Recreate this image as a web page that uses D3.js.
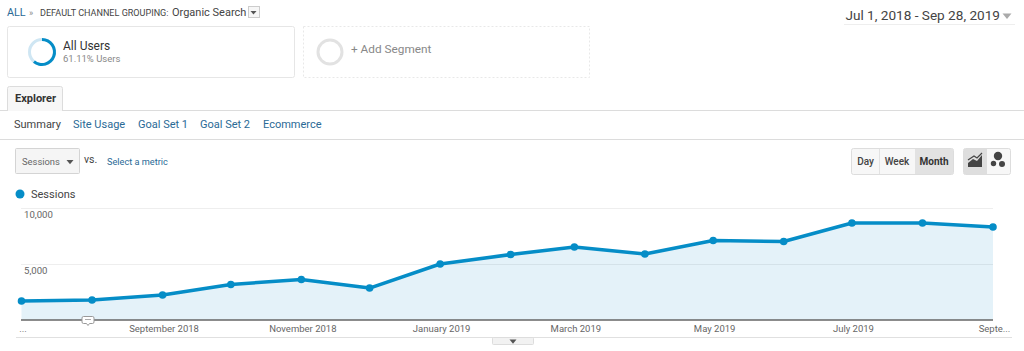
<!DOCTYPE html>
<html>
  <head>
    <meta charset="utf-8" />
    <script src="https://cdn.jsdelivr.net/npm/d3@7"></script>
    <style>
      html, body { margin: 0; padding: 0; background: #fff; overflow: hidden; }
      svg { display: block; font-family: Roboto, Arial, sans-serif; }
    </style>
  </head>
  <body>
    <div id="chart"></div>
    <script>
      // values
      const months = [
        "2018-07", "2018-08", "2018-09", "2018-10", "2018-11",
        "2018-12", "2019-01", "2019-02", "2019-03", "2019-04",
        "2019-05", "2019-06", "2019-07", "2019-08", "2019-09",
      ];
      const sessions = [
        1690, 1780, 2220, 3155, 3600, 2840, 4980, 5820, 6490, 5870, 7070,
        6980, 8620, 8620, 8270,
      ];
      const yTicks = [5000, 10000];
      const xTickMonths = ["2018-07", "2018-09", "2018-11", "2019-01", "2019-03", "2019-05", "2019-07", "2019-09"];
      const xTickText = ["...", "September 2018", "November 2018", "January 2019", "March 2019", "May 2019", "July 2019", "Septe..."];
      const tabs = ["Summary", "Site Usage", "Goal Set 1", "Goal Set 2", "Ecommerce"];
      const tabX = [14, 73, 138, 200, 263];

      const blue = "#058dc7";
      const width = 1024, height = 351;

      const svg = d3.select("#chart").append("svg")
        .attr("width", width).attr("height", height);

      function label(x, y, str, size, color, anchor, weight) {
        return svg.append("text")
          .attr("x", x).attr("y", y)
          .attr("font-size", size)
          .attr("fill", color)
          .attr("text-anchor", anchor || "start")
          .attr("font-weight", weight || 400)
          .text(str);
      }
      function box(x, y, w, h, fill, stroke, r) {
        return svg.append("rect")
          .attr("x", x + 0.5).attr("y", y + 0.5)
          .attr("width", w).attr("height", h)
          .attr("rx", r || 0)
          .attr("fill", fill).attr("stroke", stroke);
      }
      function hline(x1, x2, y, color) {
        svg.append("line")
          .attr("x1", x1).attr("x2", x2)
          .attr("y1", y + 0.5).attr("y2", y + 0.5)
          .attr("stroke", color);
      }
      function caret(cx, cy, w, color) {
        svg.append("path")
          .attr("d", `M${cx - w / 2},${cy}h${w}l${-w / 2},${w * 0.6}z`)
          .attr("fill", color);
      }

      // breadcrumb
      label(7, 16, "ALL", 10.8, "#2a6a96");
      label(29, 15.5, "»", 9, "#888");
      label(40, 15.5, "DEFAULT CHANNEL GROUPING:", 9.05, "#444");
      label(172, 16, "Organic Search", 11, "#444");
      box(248, 6, 11, 11, "#f6f6f6", "#ccc");
      caret(253.5, 11, 6, "#555");

      // date range
      label(1000, 20, "Jul 1, 2018 - Sep 28, 2019", 13.6, "#444", "end");
      caret(1007, 13.5, 9, "#aaa");
      hline(844, 1015, 24, "#eeeeee");

      // segments
      box(7, 26, 287, 51, "#fff", "#e6e6e6", 2);
      const donut = d3.arc().innerRadius(11).outerRadius(14);
      const donutG = svg.append("g").attr("transform", "translate(42,52)");
      donutG.append("path")
        .attr("d", donut({ startAngle: 0, endAngle: 2 * Math.PI }))
        .attr("fill", "#cfe6f3");
      donutG.append("path")
        .attr("d", donut({ startAngle: 0, endAngle: 2 * Math.PI * 0.6111 }))
        .attr("fill", blue);
      label(63, 50, "All Users", 12, "#333");
      label(63, 61.5, "61.11% Users", 9.5, "#888");

      svg.append("rect")
        .attr("x", 303.5).attr("y", 26.5).attr("width", 286).attr("height", 51)
        .attr("fill", "#fff").attr("stroke", "#e8e8e8").attr("stroke-dasharray", "2,2");
      svg.append("circle")
        .attr("cx", 330).attr("cy", 52).attr("r", 12)
        .attr("fill", "none").attr("stroke", "#e2e2e2").attr("stroke-width", 3);
      label(351, 53, "+ Add Segment", 11.8, "#888");

      // Explorer tab
      hline(0, 1024, 110, "#dcdcdc");
      svg.append("path")
        .attr("d", "M7.5,111V88.5a2,2 0 0 1 2,-2H60.5a2,2 0 0 1 2,2V111")
        .attr("fill", "#f7f7f7").attr("stroke", "#dcdcdc");
      label(15, 102, "Explorer", 11, "#333", "start", 700);

      // sub tabs
      svg.selectAll(".subtab")
        .data(tabs)
        .enter()
        .append("text")
        .attr("class", "subtab")
        .attr("x", (d, i) => tabX[i])
        .attr("y", 128)
        .attr("font-size", 11)
        .attr("fill", (d, i) => (i === 0 ? "#444" : "#2a6a96"))
        .text((d) => d);
      hline(0, 1024, 139, "#dcdcdc");

      // metric picker
      box(15, 148, 64, 25, "#f5f5f5", "#d4d4d4", 1);
      label(22, 165, "Sessions", 9.4, "#666");
      caret(70, 160, 7, "#555");
      label(84, 163, "vs.", 10.5, "#444");
      label(107, 164.5, "Select a metric", 9.2, "#2a6a96");

      // day / week / month
      box(851, 148, 102, 26, "#f7f7f7", "#dddddd", 2);
      svg.append("rect").attr("x", 915).attr("y", 149).attr("width", 38).attr("height", 25)
        .attr("fill", "#e2e2e2");
      svg.append("line").attr("x1", 879.5).attr("x2", 879.5).attr("y1", 149).attr("y2", 174).attr("stroke", "#e2e2e2");
      label(865.5, 165, "Day", 10, "#444", "middle", 500);
      label(897, 165, "Week", 10, "#444", "middle", 500);
      label(934, 165, "Month", 10, "#333", "middle", 700);

      // chart type toggle
      box(963, 148, 47, 26, "#f7f7f7", "#dddddd", 2);
      svg.append("rect").attr("x", 964).attr("y", 149).attr("width", 23).attr("height", 25)
        .attr("fill", "#dedede");
      svg.append("path")
        .attr("d", "M968,167V163L973,159L977,161L982,155V167Z")
        .attr("fill", "#444");
      svg.append("path")
        .attr("d", "M968,160L974,156L977,158L982,153")
        .attr("fill", "none").attr("stroke", "#444").attr("stroke-width", 1.2);
      [[998, 156, 4.2], [993.5, 163.5, 2.7], [1002, 164, 3]].forEach((c) => {
        svg.append("circle").attr("cx", c[0]).attr("cy", c[1]).attr("r", c[2]).attr("fill", "#444");
      });

      // legend
      svg.append("circle").attr("cx", 20).attr("cy", 194).attr("r", 4.5).attr("fill", blue);
      label(31, 198, "Sessions", 11, "#444");

      // the chart itself, on a real time axis since months differ in length
      let parseMonth = d3.timeParse("%Y-%m");
      let data = months.map((m, i) => ({ date: parseMonth(m), value: sessions[i] }));

      let x = d3.scaleTime()
        .domain(d3.extent(data, (d) => d.date))
        .range([21.5, 993]);
      let y = d3.scaleLinear().domain([0, 10000]).range([320, 207.5]);

      // gridlines
      svg.append("g")
        .selectAll("line")
        .data(yTicks)
        .enter()
        .append("line")
        .attr("x1", 21).attr("x2", 993)
        .attr("y1", (d) => Math.round(y(d)) + 0.5)
        .attr("y2", (d) => Math.round(y(d)) + 0.5)
        .attr("stroke", "#eeeeee");

      let area = d3.area()
        .x((d) => x(d.date))
        .y0(y(0))
        .y1((d) => y(d.value));
      let line = d3.line()
        .x((d) => x(d.date))
        .y((d) => y(d.value));

      svg.append("path").datum(data)
        .attr("d", area)
        .attr("fill", blue)
        .attr("fill-opacity", 0.11);

      svg.append("path").datum(data)
        .attr("d", line)
        .attr("fill", "none")
        .attr("stroke", blue)
        .attr("stroke-width", 3.5)
        .attr("stroke-linejoin", "round");

      svg.append("g")
        .selectAll("circle")
        .data(data)
        .enter()
        .append("circle")
        .attr("cx", (d) => x(d.date))
        .attr("cy", (d) => y(d.value))
        .attr("r", 3.8)
        .attr("fill", blue);

      // y labels
      let yAxis = d3.axisRight(y)
        .tickValues(yTicks)
        .tickSize(0)
        .tickPadding(0)
        .tickFormat(d3.format(","));
      let yAxisGroup = svg.append("g")
        .attr("transform", "translate(24,0)")
        .call(yAxis);
      yAxisGroup.select(".domain").remove();
      yAxisGroup.selectAll("text")
        .attr("font-family", "Roboto, Arial, sans-serif")
        .attr("font-size", 9.6)
        .attr("fill", "#666")
        .attr("dy", "9.5");

      // x labels
      let xTickDates = xTickMonths.map(parseMonth);
      let xAxis = d3.axisBottom(x)
        .tickValues(xTickDates)
        .tickSize(0)
        .tickPadding(5)
        .tickFormat((d, i) => xTickText[i]);
      let xAxisGroup = svg.append("g")
        .attr("transform", "translate(0,320)")
        .call(xAxis);
      xAxisGroup.select(".domain").remove();
      xAxisGroup.selectAll("text")
        .attr("font-family", "Roboto, Arial, sans-serif")
        .attr("font-size", 9.5)
        .attr("fill", "#666")
        .attr("dx", 1);

      // baseline
      svg.append("line")
        .attr("x1", 21).attr("x2", 993)
        .attr("y1", 320).attr("y2", 320)
        .attr("stroke", "#666")
        .attr("stroke-width", 1.4);

      // annotation bubble
      svg.append("path")
        .attr("d", "M83.5,316.5h9a1.5,1.5 0 0 1 1.5,1.5v4a1.5,1.5 0 0 1 -1.5,1.5h-3l-1.5,2l-1.5,-2h-3a1.5,1.5 0 0 1 -1.5,-1.5v-4a1.5,1.5 0 0 1 1.5,-1.5z")
        .attr("fill", "#fff").attr("stroke", "#999");
      hline(85, 91, 319, "#aaa");

      // bottom rule and collapse handle
      hline(16, 1012, 337, "#e0e0e0");
      box(492, 337, 41, 7, "#f2f2f2", "#dddddd", 1);
      caret(513, 339.5, 7, "#555");
    </script>
  </body>
</html>
